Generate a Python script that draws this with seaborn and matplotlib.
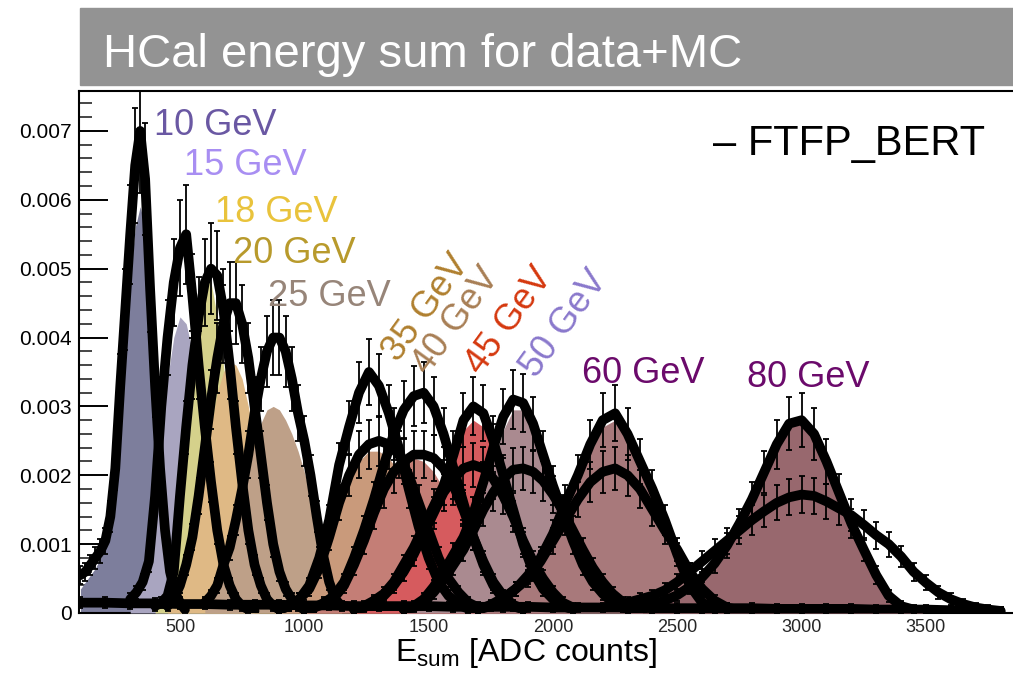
import numpy as np
import pandas as pd
import matplotlib
matplotlib.use("Agg")
import matplotlib.pyplot as plt
import seaborn as sns
from matplotlib.patches import Rectangle
from matplotlib.ticker import MultipleLocator, FixedLocator, FuncFormatter

# ---------------- data (densities in units of 1e-3) ----------------
labels = ["10 GeV", "15 GeV", "18 GeV", "20 GeV", "25 GeV", "35 GeV",
          "40 GeV", "45 GeV", "50 GeV", "60 GeV", "80 GeV"]

x10 = np.arange(100, 521, 20)
data10 = [0.55, 0.6, 0.7, 0.8, 0.9, 1.05, 1.4, 2.1, 3.3, 4.4, 5.5, 6.5, 7.0, 6.3, 4.7, 3.3, 2.1, 1.2, 0.6, 0.3, 0.15, 0.05]
fill10 = [0.35, 0.45, 0.55, 0.65, 0.8, 0.95, 1.3, 2.0, 3.0, 4.0, 4.9, 5.6, 5.9, 5.6, 4.4, 3.1, 1.9, 1.0, 0.45, 0.2, 0.08, 0.0]

x15 = np.arange(300, 801, 25)
data15 = [0.2, 0.3, 0.45, 0.75, 1.7, 3.0, 4.0, 4.8, 5.3, 5.5, 4.6, 3.6, 2.7, 1.9, 1.2, 0.7, 0.4, 0.2, 0.1, 0.05, 0.03]
fill15 = [0.15, 0.25, 0.4, 0.7, 1.5, 2.6, 3.4, 4.0, 4.3, 4.2, 3.8, 3.2, 2.5, 1.8, 1.2, 0.7, 0.4, 0.2, 0.1, 0.05, 0.0]

x18 = np.arange(400, 901, 25)
data18 = [0.1, 0.15, 0.25, 0.6, 1.7, 2.7, 3.6, 4.3, 4.8, 5.0, 4.9, 4.4, 3.6, 2.7, 1.9, 1.2, 0.7, 0.4, 0.2, 0.1, 0.05]
fill18 = [0.05, 0.1, 0.2, 0.5, 1.5, 2.5, 3.4, 4.3, 4.9, 4.8, 4.3, 3.6, 2.8, 2.0, 1.3, 0.8, 0.45, 0.25, 0.1, 0.05, 0.0]

x20 = np.arange(450, 1001, 25)
data20 = [0.1, 0.2, 0.4, 0.7, 1.1, 1.7, 2.4, 3.1, 3.7, 4.2, 4.5, 4.5, 4.2, 3.7, 3.0, 2.3, 1.6, 1.0, 0.6, 0.35, 0.2, 0.1, 0.05]
fill20 = [0.05, 0.15, 0.35, 0.6, 1.0, 1.5, 2.1, 2.7, 3.2, 3.5, 3.65, 3.6, 3.4, 3.0, 2.5, 2.0, 1.5, 1.0, 0.6, 0.35, 0.2, 0.1, 0.05]

x25 = np.arange(600, 1151, 25)
data25 = [0.15, 0.25, 0.4, 0.7, 0.95, 1.35, 1.8, 2.3, 2.9, 3.4, 3.8, 4.0, 4.0, 3.8, 3.4, 2.9, 2.5, 2.0, 1.4, 0.85, 0.45, 0.2, 0.1]
fill25 = [0.1, 0.2, 0.35, 0.6, 0.85, 1.2, 1.6, 2.0, 2.45, 2.75, 2.95, 3.0, 2.95, 2.8, 2.6, 2.35, 2.05, 1.7, 1.2, 0.75, 0.4, 0.2, 0.1]

x35 = np.arange(900, 1701, 40)
data35 = [0.05, 0.1, 0.2, 0.4, 0.8, 1.35, 2.15, 2.7, 3.2, 3.5, 3.3, 2.9, 2.4, 1.8, 1.25, 0.8, 0.45, 0.25, 0.12, 0.06, 0.03]
broad35 = [0.05, 0.1, 0.2, 0.35, 0.65, 1.1, 1.6, 2.0, 2.3, 2.45, 2.5, 2.45, 2.3, 2.0, 1.6, 1.2, 0.8, 0.5, 0.3, 0.15, 0.08]
fill35 = [0.03, 0.08, 0.15, 0.3, 0.6, 1.05, 1.55, 1.95, 2.2, 2.35, 2.35, 2.25, 2.05, 1.75, 1.4, 1.0, 0.65, 0.4, 0.2, 0.1, 0.05]

x40 = np.arange(1000, 1881, 40)
data40 = [0.05, 0.08, 0.15, 0.25, 0.45, 0.8, 1.2, 1.65, 2.15, 2.6, 2.95, 3.15, 3.2, 3.0, 2.6, 2.1, 1.6, 1.1, 0.7, 0.4, 0.2, 0.1, 0.05]
broad40 = [0.05, 0.08, 0.13, 0.22, 0.4, 0.7, 1.05, 1.45, 1.8, 2.05, 2.2, 2.3, 2.3, 2.25, 2.1, 1.85, 1.5, 1.1, 0.75, 0.45, 0.25, 0.12, 0.06]
fill40 = [0.03, 0.06, 0.12, 0.2, 0.38, 0.7, 1.05, 1.45, 1.8, 2.05, 2.2, 2.25, 2.2, 2.05, 1.8, 1.5, 1.15, 0.8, 0.5, 0.3, 0.15, 0.07, 0.03]

x45 = np.arange(1200, 2081, 40)
data45 = [0.05, 0.1, 0.18, 0.28, 0.45, 0.7, 0.95, 1.25, 1.55, 1.85, 2.3, 2.8, 3.0, 2.9, 2.5, 2.0, 1.5, 1.0, 0.6, 0.35, 0.2, 0.1, 0.05]
broad45 = [0.05, 0.08, 0.15, 0.25, 0.4, 0.6, 0.85, 1.15, 1.45, 1.75, 1.95, 2.1, 2.15, 2.1, 1.95, 1.7, 1.4, 1.05, 0.75, 0.5, 0.3, 0.15, 0.08]
fill45 = [0.03, 0.07, 0.13, 0.25, 0.4, 0.62, 0.88, 1.18, 1.5, 1.8, 2.2, 2.65, 2.8, 2.7, 2.35, 1.9, 1.4, 0.95, 0.6, 0.35, 0.18, 0.08, 0.03]

x50 = np.arange(1400, 2361, 40)
data50 = [0.05, 0.1, 0.2, 0.38, 0.6, 0.85, 1.1, 1.45, 1.9, 2.4, 2.85, 3.1, 3.05, 2.75, 2.3, 1.85, 1.45, 1.05, 0.7, 0.45, 0.28, 0.15, 0.08, 0.04, 0.02]
broad50 = [0.05, 0.08, 0.15, 0.3, 0.48, 0.7, 0.92, 1.2, 1.5, 1.75, 1.95, 2.08, 2.1, 2.05, 1.92, 1.72, 1.48, 1.2, 0.92, 0.66, 0.45, 0.28, 0.16, 0.08, 0.04]
fill50 = [0.03, 0.07, 0.15, 0.3, 0.5, 0.75, 1.0, 1.3, 1.7, 2.2, 2.65, 2.95, 2.95, 2.65, 2.2, 1.75, 1.35, 0.95, 0.62, 0.38, 0.22, 0.12, 0.06, 0.03, 0.01]

x60 = np.arange(1700, 2801, 50)
data60 = [0.05, 0.1, 0.2, 0.35, 0.55, 0.8, 1.15, 1.6, 2.0, 2.45, 2.8, 2.9, 2.6, 2.2, 1.8, 1.35, 0.85, 0.4, 0.15, 0.06, 0.03, 0.01, 0.0]
broad60 = [0.05, 0.12, 0.22, 0.35, 0.5, 0.75, 1.05, 1.35, 1.65, 1.9, 2.05, 2.1, 2.0, 1.8, 1.5, 1.2, 0.92, 0.6, 0.35, 0.18, 0.08, 0.04, 0.02]
fill60 = [0.03, 0.08, 0.16, 0.3, 0.5, 0.75, 1.1, 1.5, 1.9, 2.35, 2.7, 2.8, 2.55, 2.15, 1.75, 1.3, 0.7, 0.2, 0.06, 0.02, 0.0, 0.0, 0.0]

x80 = np.arange(2300, 3801, 50)
data80 = [0.05, 0.08, 0.12, 0.18, 0.26, 0.38, 0.52, 0.72, 0.98, 1.3, 1.65, 2.05, 2.45, 2.75, 2.8, 2.6, 2.2, 1.75, 1.3, 0.92, 0.55, 0.25, 0.1, 0.05, 0.02, 0.01, 0.01, 0.0, 0.0, 0.0, 0.0]
broad80 = [0.15, 0.2, 0.25, 0.33, 0.45, 0.6, 0.75, 0.9, 1.05, 1.2, 1.35, 1.48, 1.6, 1.68, 1.72, 1.7, 1.62, 1.52, 1.42, 1.28, 1.13, 1.0, 0.82, 0.6, 0.44, 0.3, 0.2, 0.13, 0.08, 0.05, 0.03]
fill80 = [0.03, 0.05, 0.1, 0.16, 0.24, 0.35, 0.5, 0.7, 0.95, 1.27, 1.62, 2.0, 2.4, 2.7, 2.78, 2.6, 2.2, 1.75, 1.3, 0.9, 0.52, 0.22, 0.06, 0.02, 0.0, 0.0, 0.0, 0.0, 0.0, 0.0, 0.0]

# overlapping near-zero tails of all runs
x_floor = np.arange(100, 3801, 100)
floor = [0.15, 0.15, 0.14, 0.14, 0.13, 0.13, 0.12, 0.12, 0.12, 0.11,
         0.11, 0.1, 0.1, 0.1, 0.1, 0.09, 0.09, 0.09, 0.09, 0.08,
         0.08, 0.08, 0.08, 0.07, 0.07, 0.07, 0.07, 0.07, 0.06, 0.06,
         0.06, 0.06, 0.05, 0.05, 0.05, 0.04, 0.03, 0.03]

y_ticks = [0, 0.001, 0.002, 0.003, 0.004, 0.005, 0.006, 0.007]
x_ticks = [500, 1000, 1500, 2000, 2500, 3000, 3500]

# ---------------- style ----------------
fill_colors = ["#7d7e9c", "#a9a5c0", "#d5d18b", "#dfb985", "#bea088", "#c99a7b",
               "#c47e76", "#d65b5e", "#aa8a90", "#a8797b", "#98686e"]
label_colors = ["#6a58a3", "#a88ef2", "#e9c33c", "#b89a2c", "#978579", "#b0802f",
                "#a87f55", "#d5380e", "#8a78cc", "#6b0a6b", "#6b0a6b"]
# label anchor (x in ADC, y in density), rotation
label_pos = [(395, 0.00694, 0), (516, 0.00636, 0), (641, 0.00568, 0), (713, 0.00508, 0),
             (854, 0.00446, 0), (1375, 0.00363, 54), (1497, 0.00344, 54), (1711, 0.00344, 54),
             (1933, 0.00340, 54), (2116, 0.00334, 0), (2780, 0.00328, 0)]

sns.set_theme(style="ticks")
plt.rcParams["font.family"] = ["Liberation Sans", "DejaVu Sans"]
plt.rcParams["mathtext.fontset"] = "custom"
plt.rcParams["mathtext.rm"] = "Liberation Sans"
plt.rcParams["mathtext.it"] = "Liberation Sans:italic"

W, H = 1013, 678
fig = plt.figure(figsize=(W / 100, H / 100), dpi=100)
ax = fig.add_axes([79 / W, 1 - 613 / H, 1 - 79 / W, (613 - 91) / H])

series = [
    (x10, fill10, [data10]), (x15, fill15, [data15]), (x18, fill18, [data18]),
    (x20, fill20, [data20]), (x25, fill25, [data25]),
    (x35, fill35, [data35, broad35]), (x40, fill40, [data40, broad40]),
    (x45, fill45, [data45, broad45]), (x50, fill50, [data50, broad50]),
    (x60, fill60, [data60, broad60]), (x80, fill80, [data80, broad80]),
]

for i, (xs, fv, _) in enumerate(series):
    step = float(xs[1] - xs[0])
    df = pd.DataFrame({"adc": xs.astype(float), "w": np.array(fv) * 1e-3})
    sns.histplot(data=df, x="adc", weights="w", binwidth=step,
                 binrange=(xs[0] - step / 2, xs[-1] + step / 2), element="poly",
                 fill=True, color=fill_colors[i], alpha=1, linewidth=0, ax=ax,
                 zorder=2 + i)

bands = [(x_floor, floor)]
for xs, _, dl in series:
    for d in dl:
        bands.append((xs, d))

for xs, d in bands:
    y = np.array(d) * 1e-3
    ax.errorbar(xs, y, yerr=y * 0.12 + 0.00006, fmt="none", ecolor="black",
                elinewidth=1.3, capsize=2.5, capthick=1.3, zorder=20)
    sns.lineplot(x=xs, y=y, color="black", linewidth=7, ax=ax, zorder=21,
                 solid_capstyle="round", solid_joinstyle="round")

for (lx, ly, rot), txt, c in zip(label_pos, labels, label_colors):
    ax.text(lx, ly, txt, color=c, fontsize=26, ha="left", va="baseline",
            rotation=rot, rotation_mode="anchor", zorder=30)

ax.set_xlim(94, 3850)
ax.set_ylim(0, 0.00758)
ax.set_xlabel("")
ax.set_ylabel("")
ax.yaxis.set_major_locator(FixedLocator(y_ticks))
ax.yaxis.set_major_formatter(FuncFormatter(lambda v, p: "0" if abs(v) < 1e-12 else f"{v:.3f}"))
ax.yaxis.set_minor_locator(MultipleLocator(0.0002))
ax.set_xticks(x_ticks)
ax.set_xticklabels([str(t) for t in x_ticks])
ax.tick_params(axis="y", which="major", direction="in", length=21, width=1.4,
               labelsize=15, pad=5, colors="black")
ax.tick_params(axis="y", which="minor", direction="in", length=9.5, width=1.2)
ax.tick_params(axis="x", which="both", length=0, labelsize=13, pad=4)
ax.tick_params(axis="x", which="minor", bottom=False)
for s in ["left", "top", "bottom"]:
    ax.spines[s].set_linewidth(1.5)
    ax.spines[s].set_color("black")
ax.spines["right"].set_visible(False)

# title bar
fig.patches.append(Rectangle((80 / W, 1 - 85 / H), 1 - 80 / W, 77 / H,
                             transform=fig.transFigure, color="#939393", zorder=0))
fig.text(103 / W, 1 - 67 / H, "HCal energy sum for data+MC", color="white",
         fontsize=34, va="baseline", ha="left")
fig.text(713 / W, 1 - 155 / H, "\u2013 FTFP_BERT", color="black", fontsize=30,
         va="baseline", ha="left")
fig.text(526 / W, 1 - 661 / H, r"E$_{\mathrm{sum}}$ [ADC counts]", color="black",
         fontsize=23, va="baseline", ha="center")

fig.savefig("out.png", dpi=100)
